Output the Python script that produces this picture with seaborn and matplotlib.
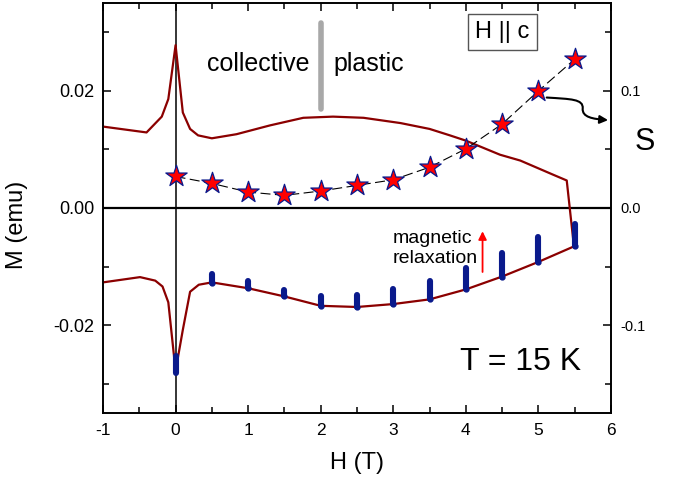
import matplotlib
matplotlib.use("Agg")
import matplotlib.pyplot as plt
import seaborn as sns
from matplotlib.path import Path
from matplotlib.patches import FancyArrowPatch
from matplotlib.ticker import MultipleLocator, FormatStrFormatter

# upper branch of the M(H) loop
up_H = [-1.0, -0.4, -0.19, -0.1, 0.0, 0.1, 0.2, 0.31, 0.5, 0.84, 1.3, 1.76, 2.17, 2.59,
        3.1, 3.5, 3.78, 4.0, 4.47, 4.75, 5.2, 5.39, 5.48, 5.5]
up_M = [0.0139, 0.0129, 0.0156, 0.0186, 0.0278, 0.0163, 0.0135, 0.0124, 0.0119, 0.0126,
        0.0141, 0.0154, 0.0156, 0.0154, 0.0145, 0.0135, 0.0124, 0.0115, 0.0091, 0.0081,
        0.0057, 0.0047, -0.0055, -0.0065]

# lower branch
low_H = [-1.0, -0.49, -0.28, -0.18, -0.1, 0.0, 0.1, 0.2, 0.32, 0.5, 1.0, 1.5, 2.0, 2.5,
         3.0, 3.5, 4.0, 4.5, 5.0, 5.5]
low_M = [-0.0127, -0.0118, -0.0124, -0.0134, -0.0161, -0.0278, -0.0208, -0.0143, -0.0131,
         -0.0127, -0.0137, -0.0151, -0.0167, -0.0169, -0.0164, -0.0156, -0.0139, -0.0117,
         -0.0092, -0.0065]

# relaxation runs: start and end of M at each field
relax_H = [0.0, 0.5, 1.0, 1.5, 2.0, 2.5, 3.0, 3.5, 4.0, 4.5, 5.0, 5.5]
relax_lo = [-0.0281, -0.0128, -0.0137, -0.0151, -0.0167, -0.0169, -0.0164, -0.0156,
            -0.0139, -0.0117, -0.0092, -0.0065]
relax_hi = [-0.0253, -0.0113, -0.0124, -0.0140, -0.0150, -0.0148, -0.0139, -0.0124,
            -0.0102, -0.0076, -0.0049, -0.0027]

# relaxation rate S
S_H = [0.0, 0.5, 1.0, 1.5, 2.0, 2.5, 3.0, 3.5, 4.0, 4.5, 5.0, 5.5]
S_val = [0.0269, 0.0210, 0.0136, 0.0108, 0.0145, 0.0193, 0.0241, 0.0348, 0.0505,
         0.0717, 0.1000, 0.1270]

sns.set_style("ticks")
plt.rcParams['font.family'] = ['Liberation Sans', 'DejaVu Sans']
plt.rcParams['axes.unicode_minus'] = False
for key in ('text.color', 'axes.labelcolor', 'xtick.color', 'ytick.color'):
    plt.rcParams[key] = 'black'

fig = plt.figure(figsize=(6.79, 4.87), dpi=100)
ax = fig.add_axes([103 / 679, 1 - 413 / 487, 508 / 679, 410 / 487])
ax2 = ax.twinx()

red = '#8b0000'
navy = '#0a1a8c'

ax.axhline(0, color='black', lw=1.6, zorder=1)
ax.axvline(0, color='black', lw=1.1, zorder=1)

sns.lineplot(x=up_H, y=up_M, sort=False, estimator=None, color=red, lw=1.6, ax=ax, zorder=3)
sns.lineplot(x=low_H, y=low_M, sort=False, estimator=None, color=red, lw=1.6, ax=ax, zorder=3)

ax.vlines(relax_H, relax_lo, relax_hi, color=navy, lw=4.4, zorder=4, capstyle='round')
ax.plot(relax_H[1:], relax_lo[1:], 'o', color=navy, ms=3.5, zorder=5)

# stars on the S axis
ax2.plot(S_H, S_val, color='black', lw=0.8, dashes=(9, 4), zorder=2)
sns.scatterplot(x=S_H, y=S_val, marker='*', s=260, color='red', edgecolor=navy,
                linewidth=0.9, ax=ax2, zorder=3)

ax.set_xlim(-1, 6)
ax.set_ylim(-0.035, 0.035)
ax2.set_ylim(-0.175, 0.175)

ax.xaxis.set_major_locator(MultipleLocator(1))
ax.xaxis.set_minor_locator(MultipleLocator(0.5))
ax.yaxis.set_major_locator(MultipleLocator(0.02))
ax.yaxis.set_minor_locator(MultipleLocator(0.01))
ax.yaxis.set_major_formatter(FormatStrFormatter('%.2f'))
ax2.yaxis.set_major_locator(MultipleLocator(0.1))
ax2.yaxis.set_minor_locator(MultipleLocator(0.05))
ax2.yaxis.set_major_formatter(FormatStrFormatter('%.1f'))

ax.tick_params(axis='both', which='both', direction='in', top=True, width=1.1)
ax.tick_params(axis='x', which='major', length=6, labelsize=12.5, pad=7)
ax.tick_params(axis='x', which='minor', length=4)
ax.tick_params(axis='y', which='major', length=6, labelsize=13, pad=6, right=False)
ax.tick_params(axis='y', which='minor', length=4, right=False)
ax2.tick_params(axis='y', which='both', direction='in', width=1.1)
ax2.tick_params(axis='y', which='major', length=6, labelsize=10.5, pad=7)
ax2.tick_params(axis='y', which='minor', length=4)

for a in (ax, ax2):
    for s in a.spines.values():
        s.set_linewidth(1.2)
        s.set_color('black')

ax.set_xlabel('H (T)', fontsize=17, labelpad=10)
ax.set_ylabel('M (emu)', fontsize=17)
ax.yaxis.set_label_coords(-0.148, 0.46)
ax2.set_ylabel('')
fig.text(645 / 679, 1 - 142 / 487, 'S', fontsize=22, ha='center', va='center')

# annotations
ax.plot([2.0, 2.0], [0.0169, 0.0316], color='#a8a8a8', lw=4, solid_capstyle='round', zorder=2)
ax.text(1.85, 0.0234, 'collective', fontsize=18, ha='right', va='baseline')
ax.text(2.17, 0.0234, 'plastic', fontsize=18, ha='left', va='baseline')
ax.text(4.505, 0.0300, 'H || c', fontsize=17, ha='center', va='center',
        bbox=dict(boxstyle='square,pad=0.3', fc='white', ec='#555555', lw=1))
ax.text(3.92, -0.0276, 'T = 15 K', fontsize=23, ha='left', va='baseline')
ax.text(2.99, -0.0069, 'magnetic\nrelaxation', fontsize=14, ha='left', va='center',
        linespacing=1.25)
ax.annotate('', xy=(4.23, -0.0035), xytext=(4.23, -0.0114),
            arrowprops=dict(arrowstyle='-|>', color='red', lw=1.3, mutation_scale=12))

verts = [(5.114, 0.01886), (5.45, 0.0186), (5.62, 0.0186), (5.61, 0.0170),
         (5.60, 0.0155), (5.75, 0.0152), (5.96, 0.0150)]
codes = [Path.MOVETO, Path.CURVE4, Path.CURVE4, Path.CURVE4,
         Path.CURVE4, Path.CURVE4, Path.CURVE4]
curl = FancyArrowPatch(path=Path(verts, codes), arrowstyle='-|>', mutation_scale=12,
                       color='black', lw=1.5, transform=ax.transData, clip_on=False,
                       zorder=6)
ax.add_patch(curl)

fig.savefig('out.png', dpi=100)
